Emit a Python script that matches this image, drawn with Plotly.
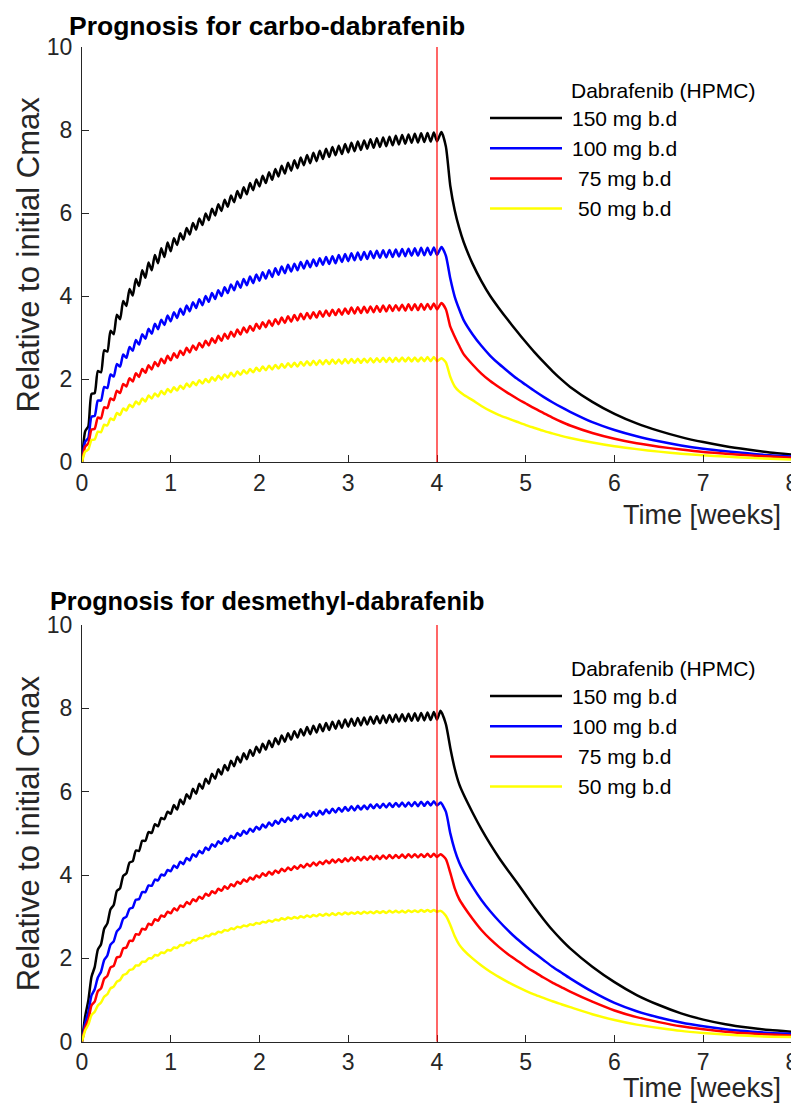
import numpy as np
import plotly.graph_objects as go

# ---------------- data ----------------
weeks_max = 8
stop_week = 4                      # end of dosing (red marker line)
dose_interval_weeks = 1 / 14       # b.d. dosing
series_names = ["150 mg b.d", "100 mg b.d", "75 mg b.d", "50 mg b.d"]
series_colors = ["#000000", "#0000FF", "#FF0000", "#FFFF00"]
legend_title = "Dabrafenib (HPMC)"
panel_titles = ["Prognosis for carbo-dabrafenib", "Prognosis for desmethyl-dabrafenib"]
x_ticks = [0, 1, 2, 3, 4, 5, 6, 7, 8]
y_ticks = [0, 2, 4, 6, 8, 10]

# dosing phase: alternating trough / peak values every half dosing interval (0 .. 4 weeks)
carbo_150 = [0, 0.74, 0.86, 1.64, 1.66, 2.19, 2.16, 2.69, 2.66, 3.16, 3.08, 3.55, 3.44, 3.88, 3.76,
             4.17, 4.01, 4.41, 4.24, 4.62, 4.44, 4.81, 4.62, 4.99, 4.79, 5.15, 4.94, 5.29, 5.08,
             5.39, 5.23, 5.51, 5.36, 5.64, 5.48, 5.76,
             5.60, 5.87, 5.71, 5.99, 5.83, 6.10, 5.94,
             6.21, 6.05, 6.32, 6.15, 6.42, 6.26, 6.53,
             6.36, 6.62, 6.45, 6.72, 6.55, 6.81, 6.64,
             6.90, 6.72, 6.98, 6.80, 7.06, 6.88, 7.14,
             6.95, 7.21, 7.02, 7.27, 7.08, 7.34, 7.15,
             7.40, 7.20, 7.45, 7.25, 7.50, 7.30, 7.55,
             7.35, 7.59, 7.39, 7.62, 7.42, 7.66, 7.46,
             7.69, 7.49, 7.72, 7.52, 7.75, 7.55, 7.78,
             7.57, 7.80, 7.59, 7.82, 7.61, 7.84, 7.63,
             7.86, 7.65, 7.88, 7.67, 7.89, 7.69, 7.91,
             7.70, 7.92, 7.71, 7.93, 7.72, 7.94, 7.73]
carbo_100 = [0, 0.49, 0.58, 1.09, 1.11, 1.48, 1.48, 1.81, 1.78, 2.11, 2.06, 2.36, 2.30, 2.59, 2.51,
             2.77, 2.68, 2.94, 2.83, 3.08, 2.97, 3.21, 3.09, 3.33, 3.20, 3.43, 3.30, 3.53, 3.39,
             3.61, 3.47, 3.69, 3.55, 3.77, 3.63, 3.85,
             3.71, 3.92, 3.78, 4.00, 3.86, 4.07, 3.93,
             4.14, 4.00, 4.21, 4.07, 4.28, 4.14, 4.35,
             4.20, 4.41, 4.26, 4.47, 4.31, 4.52, 4.37,
             4.57, 4.42, 4.62, 4.46, 4.67, 4.51, 4.71,
             4.55, 4.75, 4.59, 4.78, 4.62, 4.82, 4.66,
             4.85, 4.69, 4.88, 4.72, 4.91, 4.75, 4.94,
             4.77, 4.96, 4.79, 4.99, 4.82, 5.01, 4.84,
             5.03, 4.86, 5.05, 4.87, 5.06, 4.89, 5.08,
             4.91, 5.09, 4.92, 5.10, 4.93, 5.11, 4.94,
             5.12, 4.95, 5.13, 4.96, 5.14, 4.97, 5.15,
             4.97, 5.16, 4.98, 5.16, 4.99, 5.17, 4.99]
carbo_75 = [0, 0.37, 0.45, 0.78, 0.80, 1.07, 1.05, 1.32, 1.30, 1.53, 1.49, 1.72, 1.66, 1.88, 1.82,
            2.02, 1.94, 2.14, 2.05, 2.24, 2.15, 2.33, 2.23, 2.41, 2.31, 2.49, 2.38, 2.56, 2.45,
            2.62, 2.51, 2.68, 2.58, 2.75, 2.64, 2.81,
            2.70, 2.87, 2.76, 2.92, 2.81, 2.98, 2.87,
            3.04, 2.92, 3.09, 2.97, 3.14, 3.02, 3.19,
            3.07, 3.24, 3.12, 3.28, 3.16, 3.33, 3.21,
            3.37, 3.25, 3.41, 3.28, 3.44, 3.32, 3.48,
            3.35, 3.51, 3.38, 3.54, 3.41, 3.57, 3.44,
            3.59, 3.46, 3.61, 3.48, 3.63, 3.50, 3.65,
            3.52, 3.67, 3.54, 3.68, 3.55, 3.70, 3.57,
            3.72, 3.58, 3.73, 3.59, 3.74, 3.60, 3.75,
            3.61, 3.76, 3.62, 3.77, 3.63, 3.78, 3.64,
            3.78, 3.65, 3.79, 3.65, 3.80, 3.66, 3.80,
            3.66, 3.81, 3.67, 3.81, 3.68, 3.82, 3.68]
carbo_50 = [0, 0.25, 0.30, 0.53, 0.54, 0.73, 0.72, 0.90, 0.88, 1.05, 1.01, 1.18, 1.13, 1.29, 1.24,
            1.38, 1.32, 1.46, 1.39, 1.53, 1.46, 1.60, 1.53, 1.65, 1.58, 1.71, 1.63, 1.76, 1.68,
            1.80, 1.72, 1.84, 1.76, 1.89, 1.81, 1.93,
            1.85, 1.97, 1.89, 2.00, 1.92, 2.04, 1.96,
            2.08, 1.99, 2.11, 2.03, 2.15, 2.06, 2.18,
            2.10, 2.21, 2.13, 2.24, 2.16, 2.27, 2.19,
            2.30, 2.21, 2.32, 2.23, 2.34, 2.25, 2.36,
            2.27, 2.38, 2.29, 2.39, 2.30, 2.41, 2.32,
            2.43, 2.33, 2.44, 2.34, 2.45, 2.35, 2.46,
            2.36, 2.47, 2.37, 2.47, 2.37, 2.48, 2.38,
            2.48, 2.39, 2.49, 2.39, 2.49, 2.40, 2.50,
            2.40, 2.50, 2.41, 2.51, 2.41, 2.51, 2.41,
            2.51, 2.42, 2.52, 2.42, 2.52, 2.42, 2.52,
            2.42, 2.52, 2.43, 2.53, 2.43, 2.53, 2.43]

desm_150 = [0, 0.61, 0.99, 1.56, 1.79, 2.21, 2.34, 2.71, 2.84, 3.18, 3.28, 3.62, 3.68, 3.98, 4.04,
            4.30, 4.33, 4.59, 4.58, 4.82, 4.82, 5.03, 5.01, 5.22, 5.17, 5.37, 5.34, 5.52, 5.47,
            5.68, 5.57, 5.81, 5.70, 5.94, 5.83, 6.07,
            5.95, 6.19, 6.07, 6.31, 6.19, 6.43, 6.31,
            6.54, 6.41, 6.64, 6.51, 6.74, 6.61, 6.84,
            6.70, 6.92, 6.78, 7.00, 6.86, 7.08, 6.94,
            7.15, 7.01, 7.22, 7.07, 7.28, 7.14, 7.35,
            7.20, 7.40, 7.25, 7.45, 7.30, 7.50, 7.35,
            7.55, 7.38, 7.58, 7.42, 7.62, 7.45, 7.65,
            7.48, 7.68, 7.51, 7.70, 7.53, 7.73, 7.56,
            7.75, 7.58, 7.77, 7.59, 7.78, 7.61, 7.80,
            7.63, 7.81, 7.64, 7.83, 7.65, 7.84, 7.67,
            7.85, 7.68, 7.86, 7.69, 7.87, 7.70, 7.88,
            7.70, 7.89, 7.71, 7.90, 7.72, 7.91, 7.73]
desm_100 = [0, 0.44, 0.71, 1.11, 1.26, 1.54, 1.68, 1.96, 2.07, 2.33, 2.41, 2.65, 2.73, 2.95, 3.00,
            3.19, 3.22, 3.41, 3.42, 3.59, 3.59, 3.75, 3.74, 3.89, 3.87, 4.01, 3.99, 4.12, 4.09,
            4.23, 4.17, 4.32, 4.26, 4.41, 4.35, 4.50,
            4.44, 4.58, 4.52, 4.66, 4.60, 4.74, 4.68,
            4.81, 4.75, 4.88, 4.81, 4.94, 4.88, 5.01,
            4.94, 5.06, 4.99, 5.11, 5.04, 5.16, 5.09,
            5.21, 5.14, 5.26, 5.18, 5.30, 5.23, 5.35,
            5.27, 5.38, 5.30, 5.42, 5.34, 5.45, 5.37,
            5.48, 5.40, 5.51, 5.42, 5.54, 5.45, 5.57,
            5.48, 5.59, 5.50, 5.61, 5.52, 5.63, 5.54,
            5.65, 5.55, 5.66, 5.57, 5.67, 5.58, 5.69,
            5.60, 5.70, 5.61, 5.71, 5.62, 5.72, 5.63,
            5.73, 5.64, 5.74, 5.64, 5.74, 5.65, 5.75,
            5.65, 5.76, 5.66, 5.76, 5.67, 5.77, 5.67]
desm_75 = [0, 0.34, 0.53, 0.87, 0.96, 1.21, 1.28, 1.51, 1.58, 1.78, 1.82, 2.02, 2.04, 2.24, 2.26,
           2.42, 2.42, 2.58, 2.57, 2.71, 2.69, 2.83, 2.80, 2.94, 2.90, 3.03, 3.00, 3.12, 3.08,
           3.20, 3.15, 3.27, 3.23, 3.35, 3.30, 3.42,
           3.37, 3.48, 3.43, 3.55, 3.50, 3.61, 3.56,
           3.67, 3.62, 3.73, 3.67, 3.78, 3.73, 3.84,
           3.79, 3.89, 3.84, 3.94, 3.89, 3.99, 3.94,
           4.04, 3.98, 4.08, 4.01, 4.11, 4.05, 4.15,
           4.09, 4.18, 4.12, 4.21, 4.15, 4.24, 4.18,
           4.27, 4.21, 4.30, 4.23, 4.32, 4.26, 4.35,
           4.28, 4.37, 4.30, 4.38, 4.31, 4.40, 4.33,
           4.42, 4.34, 4.43, 4.35, 4.44, 4.36, 4.45,
           4.37, 4.46, 4.38, 4.47, 4.39, 4.48, 4.40,
           4.48, 4.41, 4.49, 4.41, 4.50, 4.42, 4.50,
           4.42, 4.50, 4.43, 4.51, 4.43, 4.51, 4.43]
desm_50 = [0, 0.27, 0.41, 0.64, 0.72, 0.87, 0.94, 1.08, 1.14, 1.28, 1.32, 1.44, 1.48, 1.60, 1.63,
           1.72, 1.74, 1.83, 1.83, 1.92, 1.92, 2.00, 2.00, 2.08, 2.07, 2.14, 2.13, 2.20, 2.19,
           2.26, 2.25, 2.32, 2.31, 2.38, 2.37, 2.44,
           2.43, 2.49, 2.48, 2.54, 2.53, 2.59, 2.58,
           2.64, 2.62, 2.68, 2.66, 2.72, 2.70, 2.76,
           2.74, 2.79, 2.77, 2.82, 2.80, 2.85, 2.83,
           2.88, 2.86, 2.91, 2.88, 2.93, 2.91, 2.96,
           2.93, 2.98, 2.95, 2.99, 2.96, 3.01, 2.98,
           3.03, 2.99, 3.04, 3.01, 3.06, 3.02, 3.07,
           3.03, 3.08, 3.04, 3.09, 3.05, 3.10, 3.06,
           3.10, 3.07, 3.11, 3.07, 3.12, 3.08, 3.12,
           3.08, 3.13, 3.09, 3.13, 3.09, 3.14, 3.10,
           3.14, 3.10, 3.14, 3.10, 3.15, 3.11, 3.15,
           3.11, 3.16, 3.12, 3.16, 3.12, 3.16, 3.12]

# wash-out phase after the last dose
carbo_wash_t = [4.05, 4.1, 4.15, 4.2, 4.25, 4.3, 4.4, 4.5, 4.6, 4.7, 4.8, 4.9, 5.0, 5.1, 5.2, 5.3, 5.4,
                5.5, 5.75, 6.0, 6.25, 6.5, 6.75, 7.0, 7.25, 7.5, 7.75, 8.0]
carbo_wash_150 = [7.95, 7.6, 6.65, 6.06, 5.64, 5.3, 4.78, 4.36, 4.0, 3.7, 3.42, 3.15, 2.89, 2.64, 2.41, 2.19,
                  1.99, 1.81, 1.45, 1.16, 0.93, 0.75, 0.6, 0.48, 0.38, 0.3, 0.23, 0.18]
carbo_wash_100 = [5.18, 4.97, 4.42, 3.98, 3.68, 3.42, 3.08, 2.8, 2.56, 2.36, 2.18, 2.01, 1.86, 1.71, 1.57, 1.44,
                  1.32, 1.21, 0.96, 0.77, 0.62, 0.5, 0.4, 0.32, 0.26, 0.21, 0.16, 0.13]
carbo_wash_75 = [3.83, 3.68, 3.26, 3.02, 2.8, 2.6, 2.35, 2.13, 1.95, 1.8, 1.66, 1.53, 1.41, 1.29, 1.18, 1.07,
                 0.97, 0.88, 0.7, 0.56, 0.45, 0.37, 0.3, 0.24, 0.2, 0.16, 0.13, 0.10]
carbo_wash_50 = [2.5, 2.4, 2.05, 1.82, 1.7, 1.62, 1.49, 1.35, 1.23, 1.13, 1.05, 0.97, 0.89, 0.82, 0.75, 0.69,
                 0.63, 0.58, 0.47, 0.38, 0.31, 0.25, 0.2, 0.16, 0.13, 0.1, 0.08, 0.06]

desm_wash_t = [4.04, 4.1, 4.15, 4.2, 4.25, 4.3, 4.4, 4.5, 4.6, 4.7, 4.8, 4.9, 5.0, 5.1, 5.2, 5.3, 5.4,
               5.5, 5.75, 6.0, 6.25, 6.5, 6.75, 7.0, 7.25, 7.5, 7.75, 8.0]
desm_wash_150 = [7.94, 7.62, 7.05, 6.55, 6.18, 5.93, 5.5, 5.1, 4.74, 4.41, 4.11, 3.82, 3.52, 3.22, 2.94, 2.68,
                 2.45, 2.24, 1.8, 1.43, 1.12, 0.88, 0.68, 0.53, 0.42, 0.34, 0.28, 0.24]
desm_wash_100 = [5.74, 5.52, 5.0, 4.6, 4.3, 4.08, 3.72, 3.40, 3.13, 2.89, 2.67, 2.47, 2.29, 2.12, 1.96, 1.8,
                 1.66, 1.52, 1.2, 0.93, 0.73, 0.58, 0.46, 0.37, 0.3, 0.25, 0.21, 0.19]
desm_wash_75 = [4.5, 4.38, 4.05, 3.68, 3.42, 3.25, 2.95, 2.68, 2.46, 2.27, 2.1, 1.95, 1.8, 1.67, 1.54, 1.42,
                1.31, 1.2, 0.96, 0.75, 0.59, 0.47, 0.37, 0.3, 0.24, 0.2, 0.17, 0.15]
desm_wash_50 = [3.14, 3.02, 2.8, 2.53, 2.33, 2.2, 2.0, 1.83, 1.68, 1.55, 1.43, 1.32, 1.22, 1.13, 1.05, 0.97,
                0.9, 0.83, 0.66, 0.52, 0.41, 0.33, 0.26, 0.21, 0.17, 0.14, 0.12, 0.11]

panels = [
    dict(dosing=[carbo_150, carbo_100, carbo_75, carbo_50],
         wash_t=carbo_wash_t,
         wash=[carbo_wash_150, carbo_wash_100, carbo_wash_75, carbo_wash_50]),
    dict(dosing=[desm_150, desm_100, desm_75, desm_50],
         wash_t=desm_wash_t,
         wash=[desm_wash_150, desm_wash_100, desm_wash_75, desm_wash_50]),
]

# ---------------- layout helpers (pixel geometry of the screenshot) ----------------
PAGE_OFF = 8                      # default body margin of the html page
W, H = 799 - PAGE_OFF, 1106 - PAGE_OFF
def px(x):
    return (x - PAGE_OFF) / W
def py(y):
    return 1 - (y - PAGE_OFF) / H

FONT = "Liberation Sans, Arial, Helvetica, sans-serif"
AX_COLOR = "#262626"

plot_left, plot_right = 82, 792
panel_px = [(47, 462), (625, 1041.7)]     # (top, bottom) screenshot rows of each axes box

fig = go.Figure()

for i, panel in enumerate(panels):
    xa = "x" if i == 0 else "x2"
    ya = "y" if i == 0 else "y2"
    for name, color, dvals, wvals in zip(series_names, series_colors, panel["dosing"], panel["wash"]):
        t_dose = (np.arange(len(dvals)) * dose_interval_weeks / 2).tolist()
        fig.add_trace(go.Scatter(
            x=t_dose + list(panel["wash_t"]),
            y=list(dvals) + list(wvals),
            mode="lines", name=name, showlegend=False,
            line=dict(color=color, width=2.5, shape="spline", smoothing=0.6),
            xaxis=xa, yaxis=ya, hoverinfo="skip"))
    # red marker at end of dosing
    fig.add_shape(type="line", xref=xa, yref=ya, x0=stop_week, x1=stop_week, y0=0, y1=10,
                  line=dict(color="#FF0000", width=1.2), layer="above")

axis_common = dict(showgrid=False, zeroline=False, showline=True, linecolor=AX_COLOR, linewidth=1,
                   ticks="inside", ticklen=7, tickwidth=1, tickcolor=AX_COLOR, mirror=False,
                   automargin=False, fixedrange=True,
                   tickfont=dict(family=FONT, size=23, color=AX_COLOR))

lay = {}
for i, (top, bot) in enumerate(panel_px):
    sx = "" if i == 0 else "2"
    lay["xaxis" + sx] = dict(axis_common, domain=[px(plot_left), px(plot_right)], range=[0, weeks_max],
                             tickvals=x_ticks, anchor="y" + sx)
    lay["yaxis" + sx] = dict(axis_common, domain=[py(bot), py(top)], range=[0, 10],
                             tickvals=y_ticks, anchor="x" + sx, ticklabelstandoff=4)

annotations = []
shapes = []
title_pos = [(67, 26, 26.5), (48, 601, 25.3)]
for i, (top, bot) in enumerate(panel_px):
    tx, ty, tsize = title_pos[i]
    annotations.append(dict(text="<b>%s</b>" % panel_titles[i], xref="paper", yref="paper",
                            x=px(tx), y=py(ty), xanchor="left", yanchor="middle", showarrow=False,
                            font=dict(family=FONT, size=tsize, color="#000000")))
    annotations.append(dict(text="Relative to initial Cmax", xref="paper", yref="paper",
                            x=px(8.5), y=py((top + bot) / 2), xanchor="left", yanchor="middle",
                            textangle=-90, showarrow=False,
                            font=dict(family=FONT, size=31, color=AX_COLOR)))
    annotations.append(dict(text="Time [weeks]", xref="paper", yref="paper",
                            x=px(783), y=py(min(bot + 53, 1088)), xanchor="right", yanchor="middle",
                            showarrow=False, font=dict(family=FONT, size=27, color=AX_COLOR)))
    # hand-drawn legend (long line samples as in the original)
    off = top - 47
    annotations.append(dict(text=legend_title, xref="paper", yref="paper", x=px(569), y=py(90 + off),
                            xanchor="left", yanchor="middle", showarrow=False,
                            font=dict(family=FONT, size=21, color="#000000")))
    for k, (name, color) in enumerate(zip(series_names, series_colors)):
        yy = 118 + off + k * 30.2
        shapes.append(dict(type="line", xref="paper", yref="paper", x0=px(490), x1=px(562),
                           y0=py(yy), y1=py(yy), line=dict(color=color, width=2.5)))
        indent = 0 if len(name) > 9 else 6
        annotations.append(dict(text=name, xref="paper", yref="paper", x=px(570 + indent), y=py(yy),
                                xanchor="left", yanchor="middle", showarrow=False,
                                font=dict(family=FONT, size=21, color="#000000")))

fig.update_layout(width=W, height=H, margin=dict(l=0, r=0, t=0, b=0),
                  paper_bgcolor="white", plot_bgcolor="white", showlegend=False,
                  annotations=annotations, **lay)
for s in shapes:
    fig.add_shape(**s)

fig.write_html("out.html")
